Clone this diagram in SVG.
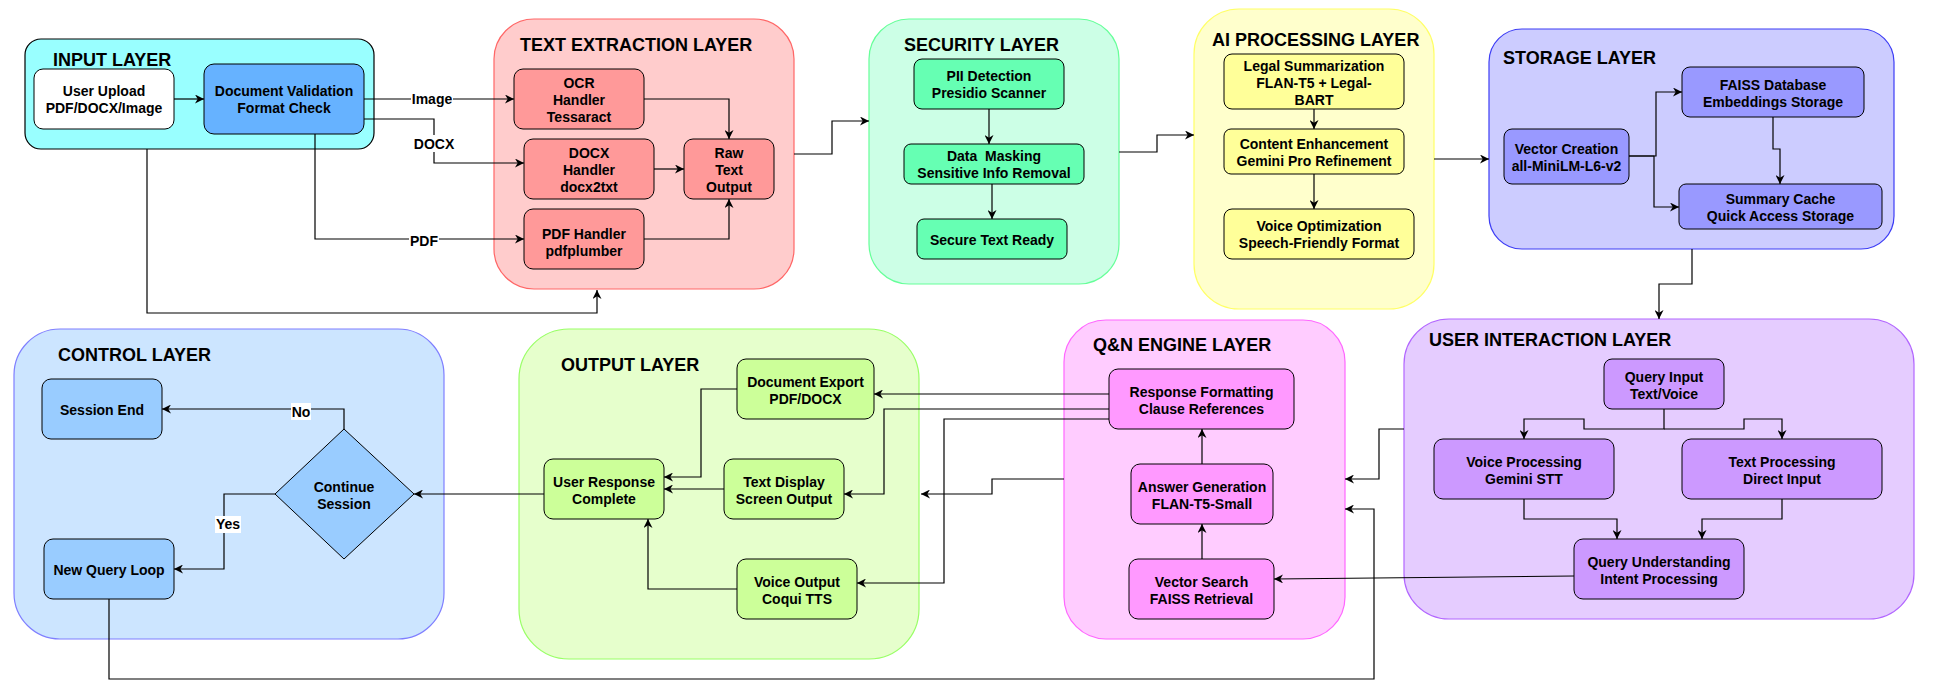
<svg xmlns="http://www.w3.org/2000/svg" width="1933" height="694" viewBox="0 0 1933 694">
<defs>
<marker id="arr" viewBox="0 0 10 10" refX="10" refY="5" markerWidth="9" markerHeight="9" markerUnits="userSpaceOnUse" orient="auto"><path d="M0,0 L10,5 L0,10 L3,5 Z" fill="#000"/></marker>
<style>
text{font-family:"Liberation Sans",Arial,sans-serif;font-weight:bold;fill:#000}
.t{font-size:18px}
.n{font-size:14px;text-anchor:middle}
.lb{font-size:14px;text-anchor:middle}
.node{stroke:#000;stroke-width:1}
.layer{stroke-width:1.2}
.c{fill:none;stroke:#000;stroke-width:1.2}
.ca{fill:none;stroke:#000;stroke-width:1.2;marker-end:url(#arr)}
.lbg{fill:#fff;stroke:none}
</style>
</defs>
<rect width="1933" height="694" fill="#fff"/>

<!-- Layers -->
<g id="input-layer"><rect class="layer" x="25" y="39" width="349" height="110" rx="16" fill="#99FFFF" stroke="#000"/><text class="t" x="53" y="66">INPUT LAYER</text></g>
<g id="text-extraction-layer"><rect class="layer" x="494" y="19" width="300" height="270" rx="40" fill="#FFCCCC" stroke="#FF6666"/><text class="t" x="520" y="51">TEXT EXTRACTION LAYER</text></g>
<g id="security-layer"><rect class="layer" x="869" y="19" width="250" height="265" rx="40" fill="#CCFFE6" stroke="#66FF99"/><text class="t" x="904" y="51">SECURITY LAYER</text></g>
<g id="ai-processing-layer"><rect class="layer" x="1194" y="9" width="240" height="300" rx="45" fill="#FFFFCC" stroke="#FFFF66"/><text class="t" x="1212" y="46">AI PROCESSING LAYER</text></g>
<g id="storage-layer"><rect class="layer" x="1489" y="29" width="405" height="220" rx="33" fill="#CCCCFF" stroke="#3D3DF5"/><text class="t" x="1503" y="64">STORAGE LAYER</text></g>
<g id="control-layer"><rect class="layer" x="14" y="329" width="430" height="310" rx="46" fill="#CCE5FF" stroke="#7F7FFF"/><text class="t" x="58" y="361">CONTROL LAYER</text></g>
<g id="output-layer"><rect class="layer" x="519" y="329" width="400" height="330" rx="50" fill="#E6FFCC" stroke="#99FF66"/><text class="t" x="561" y="371">OUTPUT LAYER</text></g>
<g id="qn-engine-layer"><rect class="layer" x="1064" y="320" width="281" height="319" rx="42" fill="#FFCCFF" stroke="#FF66FF"/><text class="t" x="1093" y="351">Q&amp;N ENGINE LAYER</text></g>
<g id="user-interaction-layer"><rect class="layer" x="1404" y="319" width="510" height="300" rx="45" fill="#E5CCFF" stroke="#B266FF"/><text class="t" x="1429" y="346">USER INTERACTION LAYER</text></g>

<!-- Connectors -->
<g id="connectors">
<path class="ca" d="M174,99 L204,99"/>
<path class="ca" d="M354,99 L514,99"/>
<path class="ca" d="M364,119 L434,119 L434,163 L524,163"/>
<path class="ca" d="M315,134 L315,239 L524,239"/>
<path class="ca" d="M147,149 L147,313 L597,313 L597,290"/>
<path class="ca" d="M644,99 L729,99 L729,139"/>
<path class="ca" d="M654,169 L684,169"/>
<path class="ca" d="M644,239 L729,239 L729,199"/>
<path class="ca" d="M794,154 L832,154 L832,121 L869,121"/>
<path class="ca" d="M989,109 L989,144"/>
<path class="ca" d="M992,184 L992,219"/>
<path class="ca" d="M1119,152 L1157,152 L1157,135 L1194,135"/>
<path class="ca" d="M1314,109 L1314,129"/>
<path class="ca" d="M1314,174 L1314,209"/>
<path class="ca" d="M1434,159 L1489,159"/>
<path class="ca" d="M1629,156 L1656,156 L1656,92 L1682,92"/>
<path class="ca" d="M1629,156 L1654,156 L1654,207 L1679,207"/>
<path class="ca" d="M1773,117 L1773,149 L1780,149 L1780,184"/>
<path class="ca" d="M1692,249 L1692,284 L1659,284 L1659,319"/>
<path class="ca" d="M1664,409 L1664,429 L1584,429 L1584,419 L1524,419 L1524,439"/>
<path class="ca" d="M1664,429 L1744,429 L1744,419 L1782,419 L1782,439"/>
<path class="ca" d="M1524,499 L1524,519 L1617,519 L1617,539"/>
<path class="ca" d="M1782,499 L1782,519 L1702,519 L1702,539"/>
<path class="ca" d="M1404,429 L1379,429 L1379,479 L1345,479"/>
<path class="ca" d="M1574,576 L1274,579"/>
<path class="ca" d="M1202,559 L1202,524"/>
<path class="ca" d="M1202,464 L1202,429"/>
<path class="ca" d="M1109,394 L874,394"/>
<path class="ca" d="M1109,409 L884,409 L884,494 L844,494"/>
<path class="ca" d="M1109,419 L944,419 L944,583 L857,583"/>
<path class="ca" d="M1064,479 L992,479 L992,494 L921,494"/>
<path class="ca" d="M737,389 L701,389 L701,477 L664,477"/>
<path class="ca" d="M724,489 L664,489"/>
<path class="ca" d="M737,589 L648,589 L648,519"/>
<path class="ca" d="M544,494 L414,494"/>
<path class="ca" d="M344,429 L344,409 L162,409"/>
<path class="ca" d="M275,494 L224,494 L224,569 L174,569"/>
<path class="ca" d="M109,599 L109,679 L1374,679 L1374,509 L1345,509"/>
<rect class="lbg" x="411" y="91" width="42" height="17"/><text class="lb" x="432" y="104">Image</text>
<rect class="lbg" x="413" y="135" width="42" height="17"/><text class="lb" x="434" y="149">DOCX</text>
<rect class="lbg" x="409" y="232" width="30" height="17"/><text class="lb" x="424" y="246">PDF</text>
<rect class="lbg" x="291" y="403" width="20" height="17"/><text class="lb" x="301" y="417">No</text>
<rect class="lbg" x="215" y="516" width="26" height="17"/><text class="lb" x="228" y="529">Yes</text>
</g>

<!-- Nodes -->
<g id="user-upload"><rect class="node" x="34" y="69" width="140" height="60" rx="9" fill="#FFFFFF"/><text class="n" x="104" y="96">User Upload</text><text class="n" x="104" y="113">PDF/DOCX/Image</text></g>
<g id="document-validation"><rect class="node" x="204" y="64" width="160" height="70" rx="10" fill="#66B2FF"/><text class="n" x="284" y="96">Document Validation</text><text class="n" x="284" y="113">Format Check</text></g>

<g id="ocr-handler"><rect class="node" x="514" y="69" width="130" height="60" rx="9" fill="#FF9999"/><text class="n" x="579" y="87.5">OCR</text><text class="n" x="579" y="104.5">Handler</text><text class="n" x="579" y="121.5">Tessaract</text></g>
<g id="docx-handler"><rect class="node" x="524" y="139" width="130" height="60" rx="9" fill="#FF9999"/><text class="n" x="589" y="157.5">DOCX</text><text class="n" x="589" y="174.5">Handler</text><text class="n" x="589" y="191.5">docx2txt</text></g>
<g id="raw-text-output"><rect class="node" x="684" y="139" width="90" height="60" rx="9" fill="#FF9999"/><text class="n" x="729" y="157.5">Raw</text><text class="n" x="729" y="174.5">Text</text><text class="n" x="729" y="191.5">Output</text></g>
<g id="pdf-handler"><rect class="node" x="524" y="209" width="120" height="60" rx="9" fill="#FF9999"/><text class="n" x="584" y="239">PDF Handler</text><text class="n" x="584" y="256">pdfplumber</text></g>

<g id="pii-detection"><rect class="node" x="914" y="59" width="150" height="50" rx="8" fill="#66FFB3"/><text class="n" x="989" y="81">PII Detection</text><text class="n" x="989" y="98">Presidio Scanner</text></g>
<g id="data-masking"><rect class="node" x="904" y="144" width="180" height="40" rx="7" fill="#66FFB3"/><text class="n" x="994" y="161" xml:space="preserve">Data  Masking</text><text class="n" x="994" y="178">Sensitive Info Removal</text></g>
<g id="secure-text-ready"><rect class="node" x="917" y="219" width="150" height="40" rx="7" fill="#66FFB3"/><text class="n" x="992" y="244.5">Secure Text Ready</text></g>

<g id="legal-summarization"><rect class="node" x="1224" y="54" width="180" height="55" rx="8" fill="#FFFF99"/><text class="n" x="1314" y="70.5">Legal Summarization</text><text class="n" x="1314" y="87.5">FLAN-T5 + Legal-</text><text class="n" x="1314" y="104.5">BART</text></g>
<g id="content-enhancement"><rect class="node" x="1224" y="129" width="180" height="45" rx="7" fill="#FFFF99"/><text class="n" x="1314" y="149">Content Enhancement</text><text class="n" x="1314" y="166">Gemini Pro Refinement</text></g>
<g id="voice-optimization"><rect class="node" x="1224" y="209" width="190" height="50" rx="8" fill="#FFFF99"/><text class="n" x="1319" y="231">Voice Optimization</text><text class="n" x="1319" y="248">Speech-Friendly Format</text></g>

<g id="vector-creation"><rect class="node" x="1504" y="129" width="125" height="55" rx="8" fill="#9999FF"/><text class="n" x="1566.5" y="154">Vector Creation</text><text class="n" x="1566.5" y="171">all-MiniLM-L6-v2</text></g>
<g id="faiss-database"><rect class="node" x="1682" y="67" width="182" height="50" rx="8" fill="#9999FF"/><text class="n" x="1773" y="89.5">FAISS Database</text><text class="n" x="1773" y="106.5">Embeddings Storage</text></g>
<g id="summary-cache"><rect class="node" x="1679" y="184" width="203" height="45" rx="7" fill="#9999FF"/><text class="n" x="1780.5" y="204">Summary Cache</text><text class="n" x="1780.5" y="221">Quick Access Storage</text></g>

<g id="query-input"><rect class="node" x="1604" y="359" width="120" height="50" rx="8" fill="#CC99FF"/><text class="n" x="1664" y="381.5">Query Input</text><text class="n" x="1664" y="398.5">Text/Voice</text></g>
<g id="voice-processing"><rect class="node" x="1434" y="439" width="180" height="60" rx="9" fill="#CC99FF"/><text class="n" x="1524" y="466.5">Voice Processing</text><text class="n" x="1524" y="483.5">Gemini STT</text></g>
<g id="text-processing"><rect class="node" x="1682" y="439" width="200" height="60" rx="9" fill="#CC99FF"/><text class="n" x="1782" y="466.5">Text Processing</text><text class="n" x="1782" y="483.5">Direct Input</text></g>
<g id="query-understanding"><rect class="node" x="1574" y="539" width="170" height="60" rx="9" fill="#CC99FF"/><text class="n" x="1659" y="566.5">Query Understanding</text><text class="n" x="1659" y="583.5">Intent Processing</text></g>

<g id="response-formatting"><rect class="node" x="1109" y="369" width="185" height="60" rx="9" fill="#FF99FF"/><text class="n" x="1201.5" y="396.5">Response Formatting</text><text class="n" x="1201.5" y="413.5">Clause References</text></g>
<g id="answer-generation"><rect class="node" x="1131" y="464" width="142" height="60" rx="9" fill="#FF99FF"/><text class="n" x="1202" y="491.5">Answer Generation</text><text class="n" x="1202" y="508.5">FLAN-T5-Small</text></g>
<g id="vector-search"><rect class="node" x="1129" y="559" width="145" height="60" rx="9" fill="#FF99FF"/><text class="n" x="1201.5" y="586.5">Vector Search</text><text class="n" x="1201.5" y="603.5">FAISS Retrieval</text></g>

<g id="document-export"><rect class="node" x="737" y="359" width="137" height="60" rx="9" fill="#CCFF99"/><text class="n" x="805.5" y="386.5">Document Export</text><text class="n" x="805.5" y="403.5">PDF/DOCX</text></g>
<g id="user-response-complete"><rect class="node" x="544" y="459" width="120" height="60" rx="9" fill="#CCFF99"/><text class="n" x="604" y="486.5">User Response</text><text class="n" x="604" y="503.5">Complete</text></g>
<g id="text-display"><rect class="node" x="724" y="459" width="120" height="60" rx="9" fill="#CCFF99"/><text class="n" x="784" y="486.5">Text Display</text><text class="n" x="784" y="503.5">Screen Output</text></g>
<g id="voice-output"><rect class="node" x="737" y="559" width="120" height="60" rx="9" fill="#CCFF99"/><text class="n" x="797" y="586.5">Voice Output</text><text class="n" x="797" y="603.5">Coqui TTS</text></g>

<g id="session-end"><rect class="node" x="42" y="379" width="120" height="60" rx="9" fill="#99CCFF"/><text class="n" x="102" y="414.5">Session End</text></g>
<g id="new-query-loop"><rect class="node" x="44" y="539" width="130" height="60" rx="9" fill="#99CCFF"/><text class="n" x="109" y="574.5">New Query Loop</text></g>
<g id="continue-session"><polygon class="node" points="344,429 414,494 344,559 275,494" fill="#99CCFF"/><text class="n" x="344" y="491.5">Continue</text><text class="n" x="344" y="508.5">Session</text></g>
</svg>
